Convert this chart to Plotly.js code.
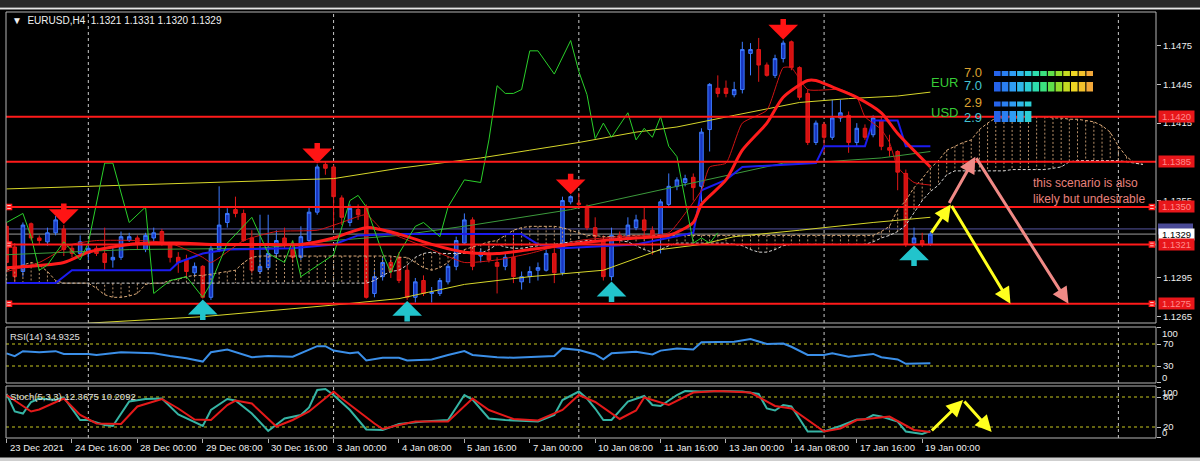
<!DOCTYPE html>
<html><head><meta charset="utf-8">
<script src="https://cdn.plot.ly/plotly-3.0.1.min.js"></script>
<style>html,body{margin:0;padding:0;background:#000;overflow:hidden}#chart{width:1200px;height:461px}</style>
</head><body><div id="chart"></div>
<script>
// ---------------- DATA ----------------
const tickBars = [0,8,16,24,32,40,48,56,64,72,80,88,96,104,112];
const tickText = ['23 Dec 2021','24 Dec 16:00','28 Dec 00:00','29 Dec 08:00','30 Dec 16:00','3 Jan 00:00','4 Jan 08:00','5 Jan 16:00','7 Jan 00:00','10 Jan 08:00','11 Jan 16:00','13 Jan 00:00','14 Jan 08:00','17 Jan 16:00','19 Jan 00:00'];
const priceTicks = [1.1265,1.1295,1.1355,1.1415,1.1445,1.1475];

const open = [1.1335,1.1319,1.1300,1.1337,1.1326,1.1323,1.1330,1.1333,1.1318,1.1314,
1.1314,1.1318,1.1314,1.1309,1.1311,1.1324,1.1326,1.1317,1.1326,1.1331,
1.1321,1.1311,1.1309,1.1299,1.1304,1.1280,1.1317,1.1338,1.1348,1.1345,
1.1326,1.1300,1.1303,1.1314,1.1326,1.1318,1.1311,1.1324,1.1346,1.1383,
1.1381,1.1357,1.1338,1.1348,1.1350,1.1283,1.1296,1.1307,1.1311,1.1301,
1.1280,1.1293,1.1283,1.1283,1.1292,1.1304,1.1322,1.1340,1.1312,1.1314,
1.1307,1.1304,1.1311,1.1292,1.1296,1.1301,1.1301,1.1314,1.1299,1.1354,
1.1353,1.1349,1.1334,1.1324,1.1296,1.1328,1.1326,1.1334,1.1340,1.1332,
1.1327,1.1352,1.1366,1.1369,1.1373,1.1366,1.1410,1.1442,1.1442,1.1437,
1.1441,1.1469,1.1472,1.1460,1.1452,1.1465,1.1478,1.1458,1.1438,1.1400,
1.1414,1.1404,1.1419,1.1421,1.1400,1.1411,1.1406,1.1417,1.1396,1.1393,
1.1376,1.1322,1.1324,1.1321];
const high = [1.1338,1.1322,1.1338,1.1338,1.1328,1.1334,1.1343,1.1336,1.1321,1.1328,
1.1321,1.1320,1.1334,1.1319,1.1331,1.1330,1.1328,1.1330,1.1334,1.1333,
1.1322,1.1315,1.1313,1.1307,1.1305,1.1322,1.1366,1.1349,1.1358,1.1348,
1.1332,1.1344,1.1344,1.1332,1.1334,1.1323,1.1335,1.1350,1.1383,1.1385,
1.1383,1.1359,1.1352,1.1352,1.1352,1.1301,1.1311,1.1311,1.1315,1.1305,
1.1295,1.1297,1.1288,1.1295,1.1306,1.1327,1.1345,1.1342,1.1318,1.1322,
1.1311,1.1314,1.1330,1.1300,1.1304,1.1307,1.1317,1.1318,1.1358,1.1359,
1.1361,1.1352,1.1342,1.1328,1.1334,1.1331,1.1342,1.1344,1.1350,1.1335,
1.1356,1.1376,1.1373,1.1375,1.1376,1.1411,1.1446,1.1452,1.1448,1.1447,
1.1478,1.1477,1.1481,1.1462,1.1468,1.1479,1.1479,1.1459,1.1441,1.1417,
1.1416,1.1433,1.1433,1.1424,1.1415,1.1414,1.1421,1.1420,1.1406,1.1394,
1.1379,1.1334,1.1330,1.1331];
const low = [1.1301,1.1292,1.1296,1.1324,1.1321,1.1320,1.1328,1.1312,1.1311,1.1311,
1.1309,1.1312,1.1301,1.1303,1.1309,1.1323,1.1317,1.1315,1.1321,1.1320,
1.1307,1.1299,1.1296,1.1296,1.1279,1.1278,1.1315,1.1334,1.1342,1.1323,
1.1299,1.1298,1.1301,1.1311,1.1318,1.1307,1.1309,1.1323,1.1344,1.1375,
1.1332,1.1336,1.1335,1.1340,1.1279,1.1280,1.1293,1.1295,1.1291,1.1278,
1.1276,1.1281,1.1276,1.1281,1.1290,1.1301,1.1321,1.1301,1.1307,1.1307,
1.1283,1.1301,1.1291,1.1286,1.1291,1.1293,1.1300,1.1291,1.1297,1.1352,
1.1349,1.1332,1.1324,1.1293,1.1293,1.1322,1.1324,1.1332,1.1324,1.1313,
1.1314,1.1350,1.1363,1.1366,1.1355,1.1354,1.1393,1.1435,1.1435,1.1435,
1.1438,1.1452,1.1447,1.1451,1.1450,1.1462,1.1456,1.1433,1.1398,1.1398,
1.1392,1.1402,1.1416,1.1392,1.1397,1.1402,1.1404,1.1394,1.1389,1.1363,
1.1319,1.1321,1.1319,1.1320];
const close = [1.1307,1.1296,1.1336,1.1326,1.1324,1.1330,1.1340,1.1317,1.1314,1.1323,
1.1318,1.1314,1.1307,1.1311,1.1327,1.1327,1.1321,1.1328,1.1330,1.1322,
1.1311,1.1307,1.1300,1.1304,1.1280,1.1318,1.1336,1.1345,1.1345,1.1324,
1.1301,1.1304,1.1314,1.1324,1.1322,1.1311,1.1327,1.1346,1.1381,1.1380,
1.1358,1.1342,1.1349,1.1344,1.1280,1.1296,1.1307,1.1300,1.1293,1.1280,
1.1292,1.1283,1.1284,1.1293,1.1304,1.1324,1.1340,1.1304,1.1315,1.1309,
1.1304,1.1311,1.1296,1.1296,1.1300,1.1303,1.1314,1.1299,1.1355,1.1358,
1.1352,1.1334,1.1327,1.1296,1.1328,1.1324,1.1336,1.1340,1.1332,1.1327,
1.1354,1.1366,1.1371,1.1372,1.1365,1.1408,1.1445,1.1438,1.1438,1.1441,
1.1472,1.1472,1.1460,1.1452,1.1465,1.1477,1.1458,1.1435,1.1400,1.1415,
1.1404,1.1419,1.1423,1.1400,1.1411,1.1404,1.1419,1.1397,1.1394,1.1377,
1.1321,1.1326,1.1321,1.1329];

// indicator lines: bar index / value pairs
const maThickBar = [0,7,10,15,21,25,31,36,40,44,48,52,56,60,64,69,73,77,81,84,85,88,90,93,95,98,99,101,104,107,109,113];
const maThickVal = [1.1303,1.1307,1.1315,1.1321,1.1322,1.1321,1.1321,1.1321,1.1326,1.1334,1.1329,1.1321,1.1315,1.1314,1.1317,1.1321,1.1324,1.1326,1.1328,1.1338,1.1352,1.1371,1.1394,1.1415,1.1435,1.1448,1.1448,1.1443,1.1435,1.1423,1.1407,1.1381];
const maThinBar = [0,4,8,11,16,20,24,25,29,33,38,41,44,46,48,52,56,60,64,70,75,81,83,85,86,88,90,93,95,96,98,102,104,105,107,108,109,111,113];
const maThinVal = [1.1300,1.1307,1.1321,1.1324,1.1324,1.1322,1.1311,1.1307,1.1324,1.1331,1.1332,1.1338,1.1344,1.1332,1.1327,1.1317,1.1307,1.1309,1.1314,1.1324,1.1327,1.1330,1.1345,1.1363,1.1381,1.1384,1.1415,1.1425,1.1458,1.1458,1.1441,1.1441,1.1435,1.1420,1.1410,1.1400,1.1381,1.1369,1.1367];
const kijunBar = [0,6,8,20,21,24,27,35,40,43,48,63,65,68,77,84,85,88,90,99,100,105,106,109,110,113];
const kijunVal = [1.1291,1.1291,1.1301,1.1301,1.1307,1.1314,1.1317,1.1318,1.1321,1.1328,1.1329,1.1329,1.1321,1.1318,1.1321,1.1330,1.1363,1.1371,1.1381,1.1384,1.1397,1.1397,1.1417,1.1417,1.1397,1.1397];
const greenMaBar = [0,15,31,40,48,57,69,77,89,95,100,107,113];
const greenMaVal = [1.1313,1.1317,1.1318,1.1324,1.1328,1.1336,1.1348,1.1359,1.1376,1.1384,1.1385,1.1388,1.1393];
const upperBandBar = [0,10,24,40,48,53,58,64,70,77,82,89,97,103,109,113];
const upperBandVal = [1.1364,1.1366,1.1369,1.1372,1.1380,1.1384,1.1388,1.1394,1.1400,1.1408,1.1412,1.1421,1.1431,1.1434,1.1436,1.1439];
const lowerBandBar = [10,24,40,48,56,64,73,80,85,89,97,106,113];
const lowerBandVal = [1.1260,1.1265,1.1274,1.1279,1.1290,1.1296,1.1301,1.1317,1.1321,1.1327,1.1332,1.1338,1.1342];
const oscBar = [0,2,3,4,5,7,9,10,12,13,15,17,18,20,22,24,25,27,30,32,34,35,36,40,42,43,44,46,47,48,50,51,53,54,56,58,59,60,61,62,63,64,65,67,69,70,71,72,73,74,76,77,78,79,80,81,82,83,84,85,86,87];
const oscVal = [1.1338,1.1345,1.1327,1.1301,1.1305,1.1323,1.1309,1.1322,1.1384,1.1384,1.1338,1.1350,1.1283,1.1293,1.1296,1.1280,1.1291,1.1322,1.1342,1.1314,1.1307,1.1324,1.1296,1.1313,1.1355,1.1359,1.1350,1.1314,1.1299,1.1314,1.1335,1.1338,1.1327,1.1350,1.1371,1.1369,1.1402,1.1444,1.1438,1.1438,1.1441,1.1471,1.1471,1.1453,1.1479,1.1455,1.1437,1.1403,1.1415,1.1404,1.1423,1.1402,1.1411,1.1404,1.1420,1.1397,1.1389,1.1355,1.1322,1.1326,1.1322,1.1330];

// Ichimoku cloud, one value per bar (bars 0..139)
const spanA = [1.1301,1.1303,1.1305,1.1307,1.1305,1.1300,1.1293,1.1291,1.1291,1.1291,
1.1291,1.1287,1.1282,1.1280,1.1280,1.1281,1.1283,1.1290,1.1291,1.1291,
1.1293,1.1294,1.1296,1.1297,1.1297,1.1298,1.1299,1.1300,1.1301,1.1307,
1.1311,1.1312,1.1312,1.1312,1.1312,1.1312,1.1312,1.1312,1.1312,1.1312,
1.1312,1.1312,1.1312,1.1312,1.1312,1.1312,1.1312,1.1312,1.1311,1.1311,
1.1307,1.1303,1.1301,1.1303,1.1307,1.1313,1.1317,1.1319,1.1321,1.1323,
1.1324,1.1328,1.1332,1.1334,1.1335,1.1335,1.1335,1.1335,1.1334,1.1332,
1.1330,1.1328,1.1328,1.1327,1.1327,1.1327,1.1328,1.1328,1.1328,1.1328,
1.1328,1.1328,1.1328,1.1328,1.1328,1.1328,1.1328,1.1328,1.1328,1.1328,
1.1328,1.1328,1.1328,1.1328,1.1328,1.1328,1.1328,1.1328,1.1328,1.1328,
1.1328,1.1328,1.1328,1.1328,1.1328,1.1328,1.1328,1.1331,1.1335,1.1348,
1.1355,1.1365,1.1372,1.1380,1.1386,1.1394,1.1397,1.1400,1.1402,1.1410,
1.1415,1.1419,1.1419,1.1419,1.1419,1.1419,1.1420,1.1420,1.1419,1.1419,
1.1418,1.1418,1.1417,1.1416,1.1413,1.1408,1.1397,1.1389,1.1384,1.1383];
const spanB = [1.1291,1.1291,1.1291,1.1291,1.1291,1.1291,1.1291,1.1291,1.1291,1.1291,
1.1291,1.1291,1.1291,1.1291,1.1291,1.1291,1.1291,1.1291,1.1291,1.1291,
1.1291,1.1291,1.1291,1.1291,1.1291,1.1291,1.1291,1.1291,1.1291,1.1291,
1.1291,1.1291,1.1291,1.1291,1.1291,1.1291,1.1291,1.1291,1.1291,1.1291,
1.1291,1.1291,1.1291,1.1291,1.1291,1.1293,1.1297,1.1300,1.1301,1.1305,
1.1311,1.1314,1.1315,1.1314,1.1314,1.1314,1.1314,1.1314,1.1314,1.1317,
1.1321,1.1319,1.1318,1.1318,1.1319,1.1320,1.1321,1.1321,1.1322,1.1323,
1.1323,1.1324,1.1324,1.1324,1.1324,1.1324,1.1323,1.1320,1.1317,1.1315,
1.1317,1.1320,1.1322,1.1322,1.1322,1.1322,1.1322,1.1322,1.1322,1.1321,
1.1320,1.1317,1.1315,1.1315,1.1317,1.1320,1.1321,1.1321,1.1321,1.1321,
1.1321,1.1321,1.1321,1.1321,1.1321,1.1321,1.1323,1.1326,1.1328,1.1331,
1.1336,1.1346,1.1355,1.1362,1.1367,1.1375,1.1378,1.1378,1.1378,1.1378,
1.1378,1.1378,1.1378,1.1379,1.1379,1.1379,1.1379,1.1379,1.1380,1.1381,
1.1385,1.1386,1.1386,1.1386,1.1386,1.1386,1.1386,1.1385,1.1384,1.1383];

const rsiBar = [0,1,2,4,6,7,10,11,14,18,20,22,24,25,27,30,32,35,38,39,40,42,43,44,46,48,49,52,54,56,57,60,62,65,67,68,70,72,73,74,77,79,80,82,84,85,87,89,91,93,95,96,98,100,101,103,106,107,109,110,113];
const rsiVal = [53,48,57,55,57,52,52,50,55,53,48,44,38,55,60,46,48,47,66,66,58,53,55,40,45,45,40,42,50,57,50,46,45,47,48,62,59,51,42,53,56,51,58,62,60,73,74,74,79,70,71,65,50,50,53,47,52,46,42,34,35];
const stKBar = [0,1,2,3,4,6,7,9,10,12,13,15,17,19,21,22,24,25,27,28,30,32,34,36,37,38,39,40,42,44,46,48,51,54,56,57,59,61,65,67,68,70,71,72,73,74,76,78,79,80,82,83,85,87,89,90,92,93,94,95,96,98,100,102,104,105,106,107,109,110,112,113];
const stKVal = [86,51,47,70,77,74,79,34,34,24,22,71,76,77,45,37,22,54,76,73,47,12,37,44,59,94,96,84,54,15,14,26,31,34,84,75,37,34,31,44,74,91,77,57,34,34,71,82,64,62,84,92,91,92,91,91,86,57,53,64,61,11,11,22,35,35,44,41,31,11,6,12];
const stDBar = [0,3,4,7,9,11,14,16,19,21,23,25,27,28,30,33,35,37,40,41,45,46,48,50,54,57,59,62,65,68,70,72,75,77,78,81,84,87,91,94,96,100,102,104,108,111,113];
const stDVal = [84,51,55,77,44,27,26,61,76,57,35,34,64,73,67,21,34,51,91,77,27,16,24,31,31,77,54,36,33,54,84,70,36,53,79,64,89,92,89,62,57,11,17,34,41,14,10];

const levels = [1.1420,1.1385,1.1350,1.1321,1.1275];
const markedLevels = [1.1350,1.1321,1.1275];
const askLevel = 1.1333, bidLevel = 1.1329;
const sellBars = [7,38,69,95];
const buyBars = [24,49,74,111];
const gridBars = [10,40,70,100,136];
const yellowBars = [113,115.5,122.8], yellowPrices = [1.1329,1.1352,1.1275];
const pinkBars = [115.2,118.5,129.9], pinkPrices = [1.1352,1.1389,1.1275];
const stochArrowBars = [113,117,120.5], stochArrowVals = [10,74,10];
const strengthNames = ['EUR','USD'];
const strengthVals = [7.0,2.9];
const header = 'EURUSD,H4';
const headerQuote = ['1.1321','1.1331','1.1320','1.1329'];
const rsiLabel = 'RSI(14) 34.9325';
const stochLabel = 'Stoch(5,3,3) 12.3675 10.2092';
const scenarioText = ['this scenario is also','likely but undesirable'];

// ---------------- LAYOUT HELPERS ----------------
const F = 'Liberation Sans, Arial, sans-serif';
const W = 1200, H = 461, ML = 6, MR = 44, MT = 12, MB = 23;
const PW = W - ML - MR, PH = H - MT - MB;
const px2x = p => (p - ML) / PW;
const py2y = p => (H - MB - p) / PH;
const dMain = [py2y(323), 1], dRsi = [py2y(383), py2y(327)], dSto = [0, py2y(386)];

const traces = [];
const L = (x, y, color, width, extra) => Object.assign({type:'scatter', mode:'lines', x, y, line:{color, width}, hoverinfo:'skip', xaxis:'x', yaxis:'y'}, extra || {});

// cloud hatch
const hx = [], hy = [];
spanA.forEach((a, i) => { hx.push(i, i, null); hy.push(a, spanB[i], null); });
traces.push(L(hx, hy, '#b8906a', 1, {line:{color:'#b8906a', width:1, dash:'2px,2px'}, connectgaps:false}));
const cidx = spanA.map((_, i) => i);
traces.push(L(cidx, spanA, '#dcaa78', 1, {line:{color:'#dcaa78', width:1, dash:'3px,2px'}}));
traces.push(L(cidx, spanB, '#d4d4d4', 1, {line:{color:'#d4d4d4', width:1, dash:'3px,2px'}}));
// bands / MAs
traces.push(L(upperBandBar, upperBandVal, '#d6d62a', 1));
traces.push(L(lowerBandBar, lowerBandVal, '#d6d62a', 1));
traces.push(L(greenMaBar, greenMaVal, '#3c9a3c', 1));
traces.push(L(kijunBar, kijunVal, '#1c1cf0', 2));
// candles
traces.push({type:'candlestick', x: open.map((_, i) => i), open, high, low, close,
  increasing:{line:{color:'#3d7bff', width:1}, fillcolor:'#1836c0'},
  decreasing:{line:{color:'#e41818', width:1}, fillcolor:'#d41010'},
  whiskerwidth:0, hoverinfo:'skip', xaxis:'x', yaxis:'y'});
traces.push(L(maThinBar, maThinVal, '#d01414', 1, {line:{color:'#d01414', width:1, shape:'spline', smoothing:0.5}}));
traces.push(L(maThickBar, maThickVal, '#ff1c1c', 3, {line:{color:'#ff1c1c', width:3, shape:'spline', smoothing:0.7}}));
traces.push(L(oscBar, oscVal, '#2ad02a', 1));
// level end markers
const mx = [], my = [];
markedLevels.forEach(v => { mx.push(0.3, 140.1); my.push(v, v); });
traces.push({type:'scatter', mode:'markers', x:mx, y:my, marker:{symbol:'square', size:5, color:'#ffffff', line:{color:'#ff1a1a', width:1.5}}, hoverinfo:'skip', xaxis:'x', yaxis:'y'});
// RSI
traces.push(L(rsiBar, rsiVal, '#3b8fe8', 2, {yaxis:'y2'}));
// Stochastic
traces.push(L(stKBar, stKVal, '#36b4a4', 2, {yaxis:'y3'}));
traces.push(L(stDBar, stDVal, '#e41a1a', 2, {yaxis:'y3'}));

// ---------------- SHAPES ----------------
const shapes = [];
shapes.push({type:'rect', xref:'paper', yref:'paper', x0:px2x(0), x1:px2x(1200), y0:py2y(7), y1:py2y(0), fillcolor:'#2a2a2a', line:{width:0}, layer:'below'});
shapes.push({type:'line', xref:'paper', yref:'paper', x0:px2x(0), x1:px2x(1200), y0:py2y(8.5), y1:py2y(8.5), line:{color:'#e6e6e6', width:2}});
shapes.push({type:'rect', xref:'paper', yref:'paper', x0:px2x(0), x1:px2x(1200), y0:py2y(461), y1:py2y(457.5), fillcolor:'#cfcfcf', line:{width:0}});
['y','y2','y3'].forEach(ax => {
  gridBars.forEach(b => shapes.push({type:'line', xref:'x', yref:ax + ' domain', x0:b, x1:b, y0:0, y1:1, line:{color:'#c8c8c8', width:1, dash:'3px,3px'}, layer:'below'}));
});
[30,70].forEach(v => shapes.push({type:'line', xref:'x domain', yref:'y2', x0:0, x1:1, y0:v, y1:v, line:{color:'#c8c820', width:1, dash:'3px,3px'}, layer:'below'}));
[20,80].forEach(v => shapes.push({type:'line', xref:'x domain', yref:'y3', x0:0, x1:1, y0:v, y1:v, line:{color:'#c8c820', width:1, dash:'3px,3px'}, layer:'below'}));
shapes.push({type:'line', xref:'x domain', yref:'y', x0:0, x1:1, y0:askLevel, y1:askLevel, line:{color:'#5656a0', width:1}, layer:'below'});
shapes.push({type:'line', xref:'x domain', yref:'y', x0:0, x1:1, y0:bidLevel, y1:bidLevel, line:{color:'#9c9c9c', width:1}, layer:'below'});
levels.forEach(v => shapes.push({type:'line', xref:'x domain', yref:'y', x0:0, x1:1, y0:v, y1:v, line:{color:'#ff1a1a', width:2}, layer:'above'}));
['y','y2','y3'].forEach(ax => shapes.push({type:'rect', xref:'x domain', yref:ax + ' domain', x0:0, x1:1, y0:0, y1:1, line:{color:'#b4b4b4', width:1}, fillcolor:'rgba(0,0,0,0)', layer:'above'}));
// ask-price box (mostly hidden behind the bid box)
shapes.push({type:'rect', xref:'paper', yref:'y', ysizemode:'pixel', yanchor:askLevel, y0:-5.5, y1:5.5, x0:1 + 2 / PW, x1:1 + 37 / PW, fillcolor:'#4a4a96', line:{width:0}});
// strength boxes
const pal = ['#2563eb','#2b7ff0','#2f9cf2','#2fb8ea','#2ccfd6','#2edcae','#3be07e','#5fe04a','#93de2c','#c6dc22','#eed624','#f2c12c','#f2a83a'];
const rowsY = [[[71,76],[82,91.5]],[[101.5,106.5],[111,122]]];
strengthVals.forEach((v, c) => {
  const n = Math.round(v * 13 / 7);
  rowsY[c].forEach(r => {
    for (let k = 0; k < n; k++) {
      const x0 = 994 + k * 7.7;
      shapes.push({type:'rect', xref:'paper', yref:'paper', x0:px2x(x0), x1:px2x(x0 + 6.6), y0:py2y(r[1]), y1:py2y(r[0]), fillcolor:pal[k], line:{width:0}, layer:'above'});
    }
  });
});

// ---------------- ANNOTATIONS ----------------
const ann = [];
const T = (text, xp, yp, size, color, extra) => Object.assign({text, xref:'paper', yref:'paper', x:px2x(xp), y:py2y(yp), xanchor:'left', yanchor:'middle', showarrow:false, font:{family:F, size, color}}, extra || {});
ann.push(T('\u25BC\u00a0\u00a0' + header + '\u00a0\u00a0' + headerQuote.join(' '), 10, 21, 10, '#f0f0f0'));
ann.push(T(rsiLabel, 8, 336, 9.5, '#e0e0e0'));
ann.push(T(stochLabel, 8, 396, 9.5, '#e0e0e0'));
tickBars.forEach((b, k) => ann.push({text:tickText[k], xref:'x', yref:'paper', x:b, y:py2y(448), xanchor:'left', yanchor:'middle', xshift:1, showarrow:false, font:{family:F, size:9.5, color:'#f0f0f0'}}));
// panel end labels, clamped inside the panel as the terminal does
const endLbl = (txt, yref, v, shift) => ann.push({text:txt, xref:'paper', yref, x:1, y:v, xanchor:'left', yanchor:'middle', xshift:4, yshift:shift, showarrow:false, font:{family:F, size:9.5, color:'#eeeeee'}});
endLbl('100', 'y2', 100, -5.5); endLbl('0', 'y2', 0, 5.5);
endLbl('100', 'y3', 100, -5); endLbl('0', 'y3', 0, 5);
// right-hand price boxes
const box = (v, bg, fg) => ({text:v.toFixed(4), xref:'paper', yref:'y', x:1, y:v, xanchor:'left', yanchor:'middle', xshift:2, width:35, height:11, bgcolor:bg, borderpad:0, showarrow:false, font:{family:F, size:9.5, color:fg}});
ann.push(box(bidLevel, '#ffffff', '#000000'));
levels.forEach(v => ann.push(box(v, '#e8161a', '#ff8a8a')));
// signal arrows
sellBars.forEach(b => ann.push({text:'', xref:'x', yref:'y', x:b, y:high[b], ax:0, ay:-23, showarrow:true, arrowhead:1, arrowsize:0.9, arrowwidth:5.5, arrowcolor:'#ff1414', standoff:1}));
buyBars.forEach(b => ann.push({text:'', xref:'x', yref:'y', x:b, y:low[b], ax:0, ay:23, showarrow:true, arrowhead:1, arrowsize:0.9, arrowwidth:5.5, arrowcolor:'#22c4cc', standoff:1}));
// scenario arrows
const path = (bx, vy, color, yref) => {
  for (let k = 1; k < bx.length; k++) ann.push({text:'', xref:'x', yref, axref:'x', ayref:yref, x:bx[k], y:vy[k], ax:bx[k-1], ay:vy[k-1], showarrow:true, arrowhead:2, arrowsize:1.1, arrowwidth:3, arrowcolor:color});
};
path(yellowBars, yellowPrices, '#ffff1e', 'y');
path(pinkBars, pinkPrices, '#f08a86', 'y');
path(stochArrowBars, stochArrowVals, '#ffff1e', 'y3');
// strength texts
ann.push(T(strengthNames[0], 929, 82, 13, '#36cc36'));
ann.push(T(strengthNames[1], 929, 113, 13, '#36cc36'));
ann.push(T(strengthVals[0].toFixed(1), 962, 73, 13, '#dca030'));
ann.push(T(strengthVals[0].toFixed(1), 962, 86, 13, '#44c4d4'));
ann.push(T(strengthVals[1].toFixed(1), 962, 103, 13, '#dca030'));
ann.push(T(strengthVals[1].toFixed(1), 962, 117, 13, '#44c4d4'));
ann.push(T(scenarioText.join('<br>'), 1031, 190.5, 12, '#e8827c', {align:'left'}));

// ---------------- AXES ----------------
const yax = (domain, range, tickvals, ticktext) => ({domain, range, side:'right', tickvals, ticktext, ticks:'outside', ticklen:4, tickcolor:'#c0c0c0', tickfont:{family:F, size:9.5, color:'#eeeeee'}, showgrid:false, zeroline:false, showline:false, fixedrange:true, anchor:'x'});
const layout = {
  width:W, height:H, margin:{l:ML, r:MR, t:MT, b:MB, pad:0},
  paper_bgcolor:'#000000', plot_bgcolor:'#000000', showlegend:false, boxgap:0.38, hovermode:false,
  xaxis:{range:[-0.07,140.6], domain:[0,1], anchor:'y3', tickvals:tickBars, showticklabels:false, ticks:'outside', ticklen:4, tickcolor:'#b0b0b0', showgrid:false, zeroline:false, showline:false, fixedrange:true, rangeslider:{visible:false}},
  yaxis:yax(dMain, [1.12601,1.15011], priceTicks, priceTicks.map(v => v.toFixed(4))),
  yaxis2:yax(dRsi, [-0.9,100.9], [0,30,70,100], ['','30','70','']),
  yaxis3:yax(dSto, [-2,102], [0,20,80,100], ['','20','80','']),
  shapes, annotations:ann
};
Plotly.newPlot('chart', traces, layout, {staticPlot:true, displayModeBar:false});
</script></body></html>
